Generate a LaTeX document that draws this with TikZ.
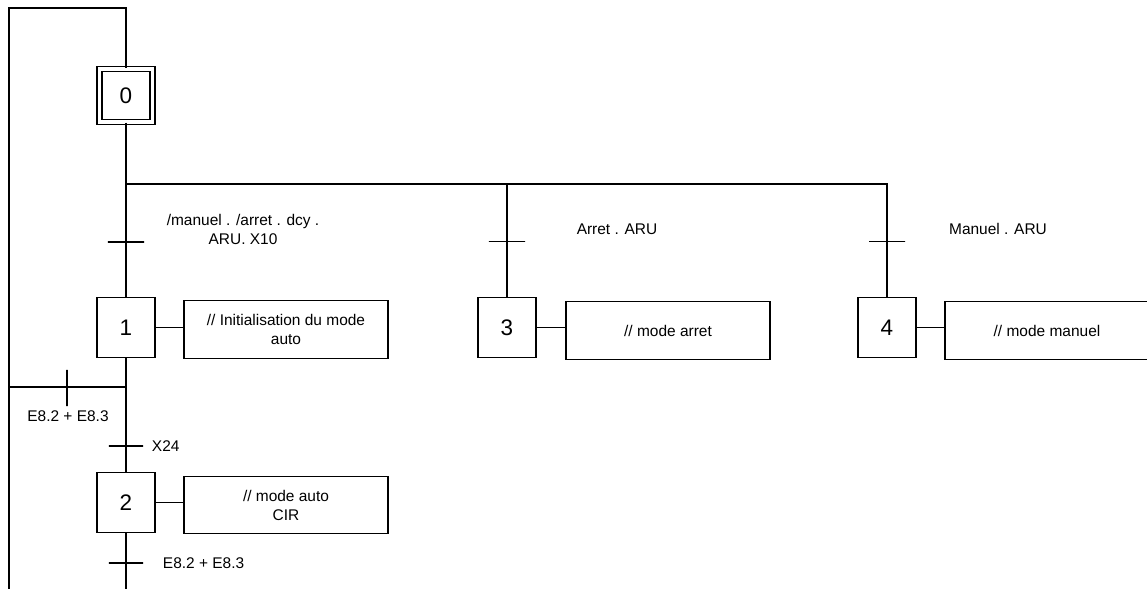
\documentclass[tikz,border=0pt]{standalone}
\usepackage{fontspec}
\setmainfont{Liberation Sans}
\usetikzlibrary{positioning}

\begin{document}
\begin{tikzpicture}[
  x=0.025cm, y=-0.025cm,
  line width=0.8pt,
  etape/.style={draw, inner sep=0pt, minimum width=1.45cm, minimum height=1.52cm,
    font=\fontsize{16}{18}\selectfont},
  etapeinit/.style={etape, double, double distance=0.095cm,
    minimum width=1.325cm, minimum height=1.325cm},
  action/.style={draw, inner sep=2pt, minimum width=5.1cm, minimum height=1.43cm,
    align=center, font=\fontsize{11}{13.5}\selectfont},
  recep/.style={draw, inner sep=0pt, minimum width=0.9cm, minimum height=0pt},
  recepv/.style={draw, inner sep=0pt, minimum width=0pt, minimum height=0.9cm},
  cond/.style={inner sep=1pt, align=center, font=\fontsize{11}{13.5}\selectfont},
]
\clip (0,0) rectangle (1147,589);

% ============================================================ steps
\node[etapeinit] (s0) at (126,95.5) {0};
\node[etape] (s1) at (126,327.5) {1};
\node[etape] (s2) at (126,502.5) {2};
\node[etape] (s3) at (507,327.5) {3};
\node[etape] (s4) at (887,327.5) {4};

% actions
\node[action] (a1) at (286,329.5) {// Initialisation du mode\\auto};
\node[action] (a2) at (286,505) {// mode auto\\CIR};
\node[action] (a3) at (668,330.5) {// mode arret};
\node[action] (a4) at (1047,330.5) {// mode manuel};

% ====================================================== transitions
\node[recep] (t1) at (126,242) {};
\node[recep] (t3) at (507,241.5) {};
\node[recep] (t4) at (887,241.5) {};
\node[recepv] (tb) at (67,388) {};
\node[recep, minimum width=0.85cm] (t24) at (126,446) {};
\node[recep, minimum width=0.85cm] (t2) at (126,563) {};

\node[cond] (c1) at (243,229.5) {/manuel . /arret . dcy .\\ARU. X10};
\node[cond] (c3) at (617,229) {Arret . ARU};
\node[cond] (c4) at (998,229) {Manuel . ARU};
\node[cond] (cb) at (68,416) {E8.2 + E8.3};
\node[cond, anchor=west] (c24) at (150,446) {X24};
\node[cond, anchor=west] (c2) at (161,563) {E8.2 + E8.3};

% ======================================================== links
\coordinate (coin) at (9,8);
\coordinate (fing) at (9,595);
\coordinate (fin2) at (126,595);
\coordinate (div) at (126,184);
\coordinate (div3) at (507,184);
\coordinate (div4) at (887,184);
\coordinate (boucle) at (126,387);
\coordinate (boucleg) at (9,387);

\draw (fing) -- (coin) -| (s0.north);
\draw (s0.south) -- (s1.north);
\draw (div) -- (div4) -- (s4.north);
\draw (div3) -- (s3.north);
\draw (s1.south) -- (s2.north);
\draw (boucle) -- (boucleg);
\draw (s2.south) -- (fin2);
\foreach \i in {1,...,4} {\draw (s\i.east) -- (s\i.east -| a\i.west);}
\end{tikzpicture}
\end{document}
